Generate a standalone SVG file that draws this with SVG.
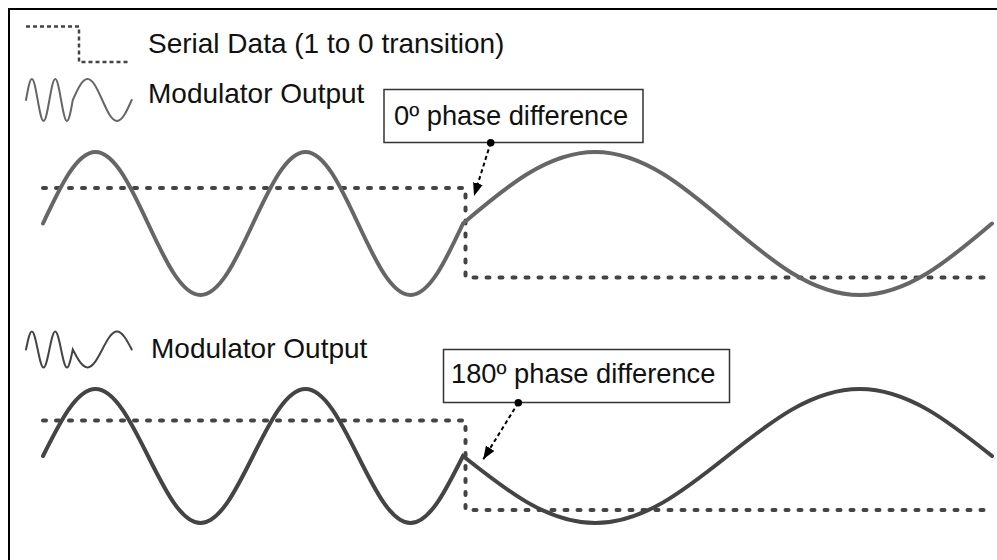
<svg xmlns="http://www.w3.org/2000/svg" width="997" height="560" viewBox="0 0 997 560">
<defs>
<style>
.frame{fill:#fff;stroke:#000;stroke-width:2}
.lbl{font-family:"Liberation Sans",Arial,sans-serif;fill:#111}
.serial{fill:none;stroke:#444;stroke-width:4;stroke-dasharray:3 10;stroke-linecap:round;stroke-linejoin:round}
.iconSerial{fill:none;stroke:#444;stroke-width:2.5;stroke-dasharray:4 3}
.w1{fill:none;stroke:#666;stroke-width:4;stroke-linecap:round}
.w2{fill:none;stroke:#444;stroke-width:4;stroke-linecap:round}
.ic1{fill:none;stroke:#666;stroke-width:2;stroke-linecap:round}
.ic2{fill:none;stroke:#444;stroke-width:2;stroke-linecap:round}
.box{fill:#fff;stroke:#333;stroke-width:1.5}
.callout{fill:none;stroke:#000;stroke-width:2;stroke-dasharray:4 3}
</style>
<marker id="ah" markerUnits="userSpaceOnUse" markerWidth="14" markerHeight="12" refX="13" refY="5" orient="auto">
<path d="M0,0 L13,5 L0,10 z" fill="#000" stroke="none"/>
</marker>
</defs>
<rect class="frame" x="9" y="9" width="1000" height="560"/>

<g id="legend-serial">
<path class="iconSerial" d="M26,26.5 H79 V62 H128"/>
<text class="lbl" x="148" y="53" font-size="28">Serial Data (1 to 0 transition)</text>
</g>
<g id="legend-output1">
<path class="ic1" d="M26,100 C27.91,89.24 29.73,79 31.85,79 C33.97,79 35.79,89.24 37.7,100 C39.6,110.76 41.43,121 43.54,121 C45.66,121 47.49,110.76 49.39,100 C51.3,89.24 53.13,79 55.24,79 C57.36,79 59.18,89.24 61.09,100 C63,110.76 64.82,121 66.94,121 C69.06,121 70.88,110.76 72.79,100 C77.59,89.24 82.19,79 87.52,79 C92.85,79 97.45,89.24 102.25,100 C107.06,110.76 111.65,121 116.99,121 C122.32,121 126.92,110.76 131.72,100"/>
<text class="lbl" x="148" y="103" font-size="28">Modulator Output</text>
</g>
<g id="chart1">
<path class="serial" d="M43,188 H465.5 V277.5 H990"/>
<path class="w1" d="M43,223.5 C60.12,186.87 76.5,152 95.5,152 C114.5,152 130.88,186.87 148,223.5 C165.12,260.13 181.5,295 200.5,295 C219.5,295 235.88,260.13 253,223.5 C270.12,186.87 286.5,152 305.5,152 C324.5,152 340.88,186.87 358,223.5 C375.12,260.13 391.5,295 410.5,295 C429.5,295 445.88,260.13 463,223.5 C506.13,186.87 547.39,152 595.25,152 C643.11,152 684.37,186.87 727.5,223.5 C770.63,260.13 811.89,295 859.75,295 C907.61,295 948.87,260.13 992,223.5"/>
</g>
<g id="callout1">
<rect class="box" x="384" y="89.5" width="259" height="53"/>
<text class="lbl" x="394" y="125" font-size="27.3">0º phase difference</text>
</g>

<g id="legend-output2">
<path class="ic2" d="M26,349.5 C27.91,340.27 29.73,331.5 31.85,331.5 C33.97,331.5 35.79,340.27 37.7,349.5 C39.6,358.72 41.43,367.5 43.54,367.5 C45.66,367.5 47.49,358.72 49.39,349.5 C51.3,340.27 53.13,331.5 55.24,331.5 C57.36,331.5 59.18,340.27 61.09,349.5 C63,358.72 64.82,367.5 66.94,367.5 C69.06,367.5 70.88,358.72 72.79,349.5 C77.59,358.72 82.19,367.5 87.52,367.5 C92.85,367.5 97.45,358.72 102.25,349.5 C107.06,340.27 111.65,331.5 116.99,331.5 C122.32,331.5 126.92,340.27 131.72,349.5"/>
<text class="lbl" x="151" y="358" font-size="28">Modulator Output</text>
</g>
<g id="chart2">
<path class="serial" d="M43,420.5 H465.5 V510 H990"/>
<path class="w2" d="M43,456 C60.12,421.68 76.5,389 95.5,389 C114.5,389 130.88,421.68 148,456 C165.12,490.32 181.5,523 200.5,523 C219.5,523 235.88,490.32 253,456 C270.12,421.68 286.5,389 305.5,389 C324.5,389 340.88,421.68 358,456 C375.12,490.32 391.5,523 410.5,523 C429.5,523 445.88,490.32 463,456 C506.13,490.32 547.39,523 595.25,523 C643.11,523 684.37,490.32 727.5,456 C770.63,421.68 811.89,389 859.75,389 C907.61,389 948.87,421.68 992,456"/>
</g>
<g id="callout2">
<rect class="box" x="443.5" y="349.5" width="286" height="53"/>
<text class="lbl" x="451" y="383" font-size="27.3">180º phase difference</text>
</g>

<g id="connectors">
<line class="callout" x1="490.7" y1="142.7" x2="474" y2="196" marker-end="url(#ah)"/>
<circle cx="490.7" cy="142.7" r="3.8" fill="#000"/>
<line class="callout" x1="518.3" y1="402.7" x2="483.3" y2="459.3" marker-end="url(#ah)"/>
<circle cx="518.3" cy="402.7" r="3.8" fill="#000"/>
</g>
</svg>
